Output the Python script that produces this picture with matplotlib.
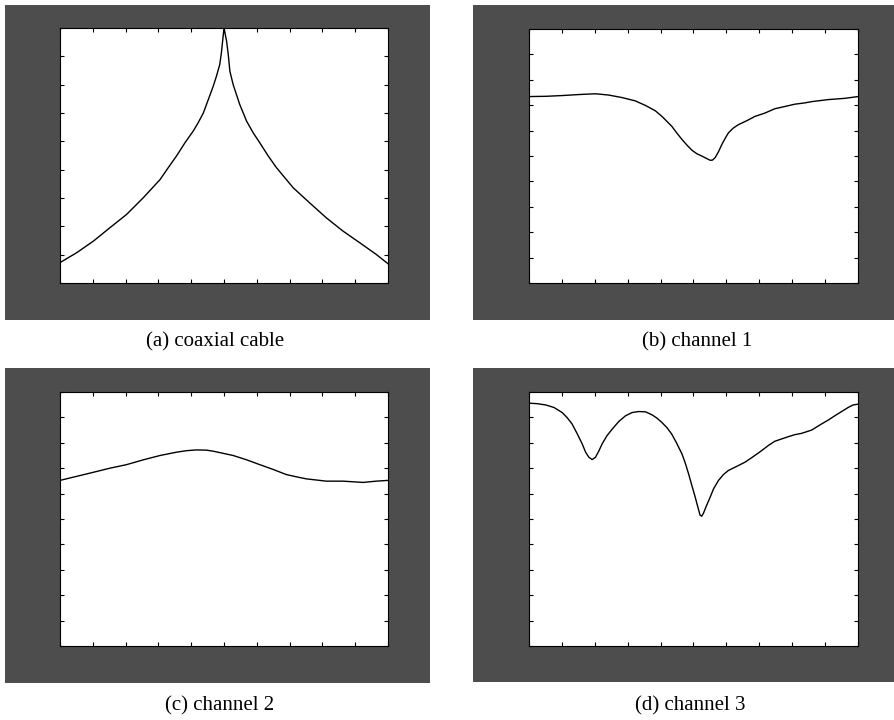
import numpy as np
import matplotlib
matplotlib.use("Agg")
from matplotlib import pyplot as plt
from matplotlib.patches import Rectangle

# (a) coaxial cable
xa = [0, 0.51, 1.02, 1.52, 2.03, 2.54, 3.05, 3.30, 3.55, 3.81, 4.06, 4.21,
      4.37, 4.52, 4.67, 4.77, 4.87, 4.92, 5.0, 5.08, 5.13, 5.18, 5.28, 5.48,
      5.69, 5.89, 6.09, 6.35, 6.6, 7.11, 7.61, 8.12, 8.63, 9.14, 9.64, 10]
ya = [0.72, 1.07, 1.48, 1.95, 2.42, 3.01, 3.65, 4.07, 4.48, 4.95, 5.36, 5.65,
      6.0, 6.47, 6.94, 7.30, 7.71, 8.12, 9.0, 8.53, 8.06, 7.47, 7.0, 6.30,
      5.71, 5.30, 4.95, 4.48, 4.07, 3.36, 2.83, 2.30, 1.83, 1.42, 1.01, 0.68]

# (b) channel 1
xb = [0, 0.51, 1.01, 1.52, 2.02, 2.42, 2.83, 3.23, 3.54, 3.84, 4.04, 4.34,
      4.49, 4.65, 4.80, 4.95, 5.10, 5.25, 5.40, 5.51, 5.58, 5.66, 5.76, 5.86,
      5.96, 6.06, 6.21, 6.36, 6.62, 6.87, 7.17, 7.47, 7.78, 8.08, 8.38, 8.59,
      9.09, 9.60, 10]
yb = [7.34, 7.35, 7.38, 7.42, 7.45, 7.40, 7.30, 7.17, 6.99, 6.78, 6.56, 6.17,
      5.91, 5.65, 5.43, 5.23, 5.09, 5.0, 4.90, 4.83, 4.84, 4.94, 5.17, 5.45,
      5.69, 5.91, 6.10, 6.23, 6.39, 6.56, 6.69, 6.86, 6.95, 7.04, 7.09, 7.14,
      7.22, 7.27, 7.34]

# (c) channel 2
xc = [0, 0.51, 1.02, 1.52, 2.03, 2.54, 3.05, 3.55, 3.86, 4.16, 4.47, 4.67,
      5.28, 5.69, 6.09, 6.50, 6.90, 7.21, 7.51, 8.12, 8.63, 9.24, 9.64, 10]
yc = [6.52, 6.68, 6.84, 7.00, 7.14, 7.33, 7.50, 7.63, 7.69, 7.72, 7.71, 7.67,
      7.50, 7.33, 7.14, 6.95, 6.75, 6.66, 6.58, 6.49, 6.49, 6.44, 6.49, 6.52]

# (d) channel 3
xd = [0, 0.25, 0.51, 0.76, 1.01, 1.16, 1.31, 1.46, 1.62, 1.72, 1.82, 1.92,
      2.02, 2.12, 2.22, 2.37, 2.53, 2.73, 2.93, 3.13, 3.33, 3.54, 3.74, 3.89,
      4.04, 4.19, 4.34, 4.49, 4.65, 4.75, 4.85, 4.95, 5.05, 5.13, 5.20, 5.25,
      5.30, 5.40, 5.51, 5.61, 5.76, 5.91, 6.06, 6.31, 6.57, 6.82, 7.07, 7.27,
      7.47, 7.88, 8.08, 8.28, 8.59, 8.89, 9.09, 9.29, 9.70, 9.85, 10]
yd = [9.56, 9.54, 9.49, 9.39, 9.19, 8.99, 8.74, 8.37, 7.95, 7.63, 7.43, 7.34,
      7.43, 7.67, 7.95, 8.28, 8.54, 8.84, 9.06, 9.19, 9.23, 9.22, 9.10, 8.97,
      8.80, 8.60, 8.34, 7.98, 7.56, 7.20, 6.78, 6.32, 5.87, 5.48, 5.15, 5.11,
      5.22, 5.54, 5.87, 6.19, 6.52, 6.75, 6.91, 7.07, 7.24, 7.46, 7.69, 7.89,
      8.06, 8.24, 8.32, 8.37, 8.50, 8.74, 8.89, 9.06, 9.39, 9.49, 9.52]

captions = ["(a) coaxial cable", "(b) channel 1", "(c) channel 2", "(d) channel 3"]

W, H = 895, 720
fig = plt.figure(figsize=(W / 100, H / 100), dpi=100)
fig.patch.set_facecolor("white")


def px_rect(x0, y0, x1, y1):
    # pixel box (top-left origin) -> figure fraction [l, b, w, h]
    return [x0 / W, 1 - y1 / H, (x1 - x0) / W, (y1 - y0) / H]


gray_boxes = [(5, 5, 430, 320), (473, 5, 895, 320),
              (5, 368, 430, 683), (473, 368, 895, 682)]
ax_boxes = [(60, 28, 388, 283), (529, 29, 858, 283),
            (60, 392, 388, 646), (529, 392, 858, 646)]
cap_pos = [(215, 342), (697, 342), (220, 706), (690, 706)]
ymax = [9, 10, 10, 10]
series = [(xa, ya), (xb, yb), (xc, yc), (xd, yd)]

for i in range(4):
    l, b, w, h = px_rect(*gray_boxes[i])
    fig.add_artist(Rectangle((l, b), w, h, transform=fig.transFigure,
                             facecolor="#4d4d4d", edgecolor="none", zorder=0))

    ax = fig.add_axes(px_rect(*ax_boxes[i]))
    ax.set_facecolor("white")
    ax.plot(series[i][0], series[i][1], color="black", lw=1.0)
    ax.set_xlim(0, 10)
    ax.set_ylim(0, ymax[i])
    ax.set_xticks(np.arange(0, 11, 1))
    ax.set_yticks(np.arange(0, ymax[i] + 1, 1))
    ax.tick_params(direction="in", length=3, width=0.8, top=True, right=True,
                   labelbottom=False, labelleft=False)
    for s in ax.spines.values():
        s.set_linewidth(0.8)
        s.set_color("black")

    fig.text(cap_pos[i][0] / W, 1 - cap_pos[i][1] / H, captions[i],
             ha="center", va="center", fontsize=15, family="Liberation Serif")

fig.savefig("out.png", dpi=100)
